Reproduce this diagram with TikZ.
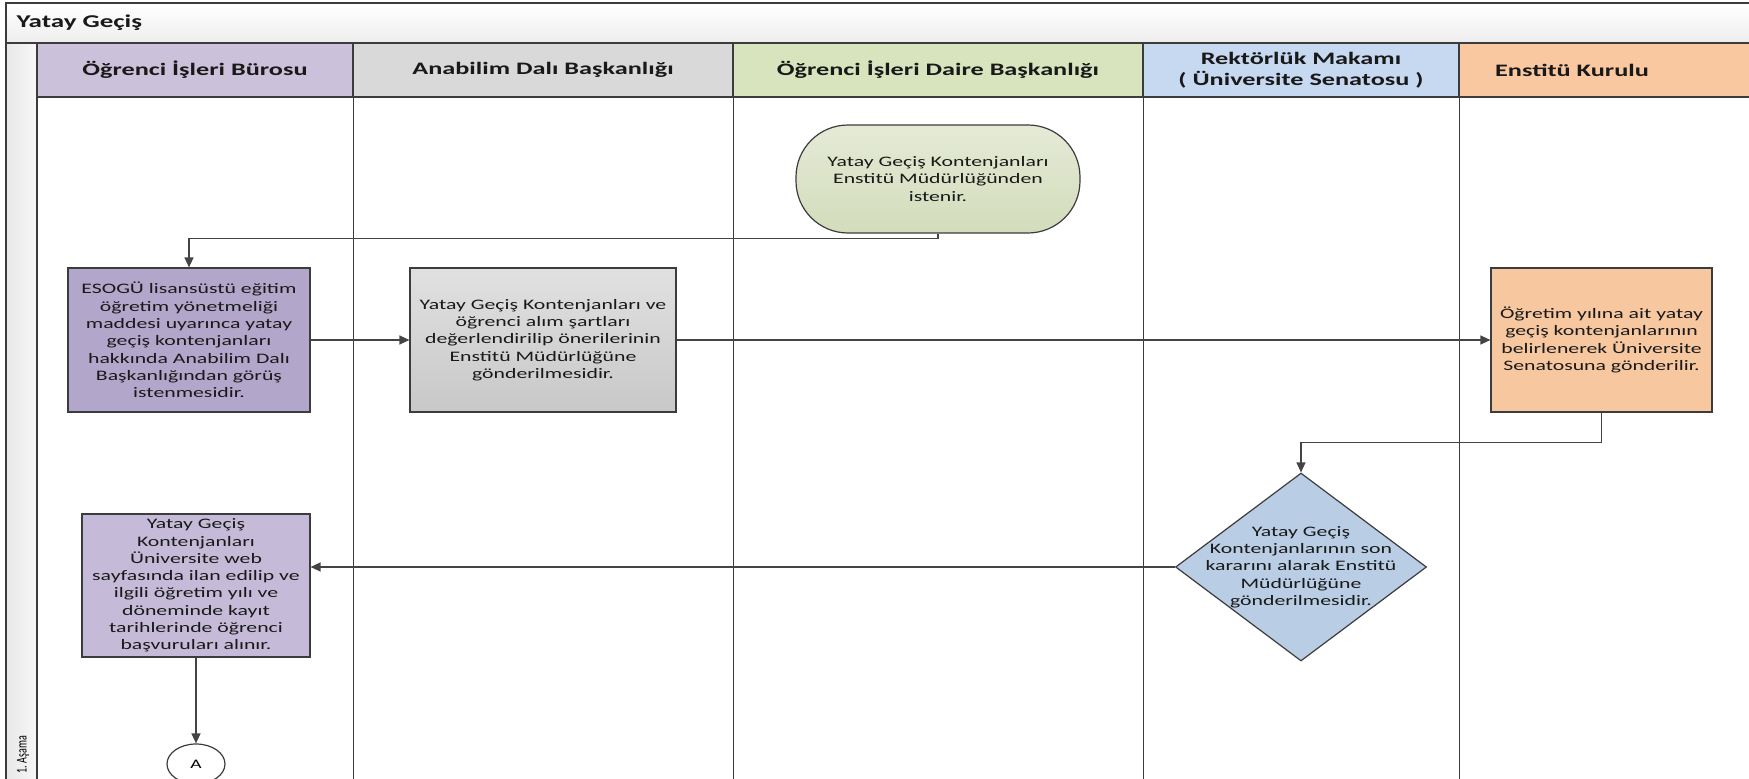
\documentclass[tikz,border=0pt]{standalone}
\usepackage{fontspec}
\setmainfont{Carlito}[FakeStretch=1.5]
\newfontfamily\narrowfont{Carlito}
\usepackage{graphicx}
\usepackage{xcolor}
\usepackage{tikz}
\usetikzlibrary{
	arrows.meta,
	shapes.geometric,
	}

\definecolor{edgegrey}{HTML}{3C3C3C}
\definecolor{linkgrey}{HTML}{444444}
\definecolor{lanepurple}{HTML}{CCC1DA}
\definecolor{lanegrey}{HTML}{D9D9D9}
\definecolor{lanegreen}{HTML}{D7E4BD}
\definecolor{laneblue}{HTML}{C6D9F1}
\definecolor{laneorange}{HTML}{F9C8A0}
\definecolor{boxpurple}{HTML}{B3A6CB}
\definecolor{boxlilac}{HTML}{C5BBD8}
\definecolor{boxgrey}{HTML}{C8C8C8}
\definecolor{boxgreen}{HTML}{D3DCBB}
\definecolor{boxblue}{HTML}{B9CDE5}
\definecolor{boxorange}{HTML}{F7C7A0}

\begin{document}
\begin{tikzpicture}[x=1pt, y=-1pt,
		lanehead/.style={draw=edgegrey, line width=1.2pt, inner sep=0pt, minimum height=54pt,
			align=center, text=black!90, font=\fontsize{17.5}{21}\selectfont\bfseries},
		proctext/.style={inner sep=0pt, align=center, text=black!90,
			font=\fontsize{14.5}{17.3}\selectfont},
		procbox/.style={proctext, draw=edgegrey, line width=1.2pt},
		laneline/.style={draw=edgegrey, line width=1.2pt},
		link/.style={draw=linkgrey, line width=1.4pt, -{Triangle[length=10pt, width=9pt]}},
	]
		\useasboundingbox (0,0) rectangle (1749,779);
		% frame, title and phase strip
		\draw[laneline, top color=white, bottom color=black!7] (6,3) rectangle (1760,43);
		\node[anchor=west, text=black!90, font=\fontsize{18}{20}\selectfont\bfseries] (title) at (13,23) {Yatay Geçiş};
		\draw[laneline, left color=black!9, right color=black!3] (6,43) rectangle (37,790);
		\node[rotate=90, anchor=west, inner sep=0pt, font=\narrowfont\fontsize{10}{12}\selectfont] (phase) at (23,774)
			{\scalebox{1}[1.5]{1. Aşama}};

		% lane headers
		\node[lanehead, fill=lanepurple, minimum width=316pt] (h1) at (195,70) {Öğrenci İşleri Bürosu};
		\node[lanehead, fill=lanegrey, minimum width=380pt] (h2) at (543,70) {Anabilim Dalı Başkanlığı};
		\node[lanehead, fill=lanegreen, minimum width=410pt] (h3) at (938,70) {Öğrenci İşleri Daire Başkanlığı};
		\node[lanehead, fill=laneblue, minimum width=316pt] (h4) at (1301,70) {Rektörlük Makamı\\( Üniversite Senatosu )};
		\draw[laneline, fill=laneorange] (1459,43) rectangle (1760,97);
		\node[text=black!90, font=\fontsize{17.5}{21}\selectfont\bfseries] (h5) at (1572,70) {Enstitü Kurulu};
		\foreach \h in {h1,h2,h3,h4}
			\draw[laneline] (\h.south east) -- ++(0,700);

		% steps
		\node[procbox, top color=boxgreen!60!white, bottom color=boxgreen, rounded corners=52pt,
			minimum width=284pt, minimum height=108pt] (start) at (938,179)
			{Yatay Geçiş Kontenjanları\\Enstitü Müdürlüğünden\\istenir.};
		\node[procbox, fill=boxpurple, minimum width=242pt, minimum height=144pt] (b1) at (189,340)
			{ESOGÜ lisansüstü eğitim\\öğretim yönetmeliği\\maddesi uyarınca yatay\\geçiş kontenjanları\\hakkında Anabilim Dalı\\Başkanlığından görüş\\istenmesidir.};
		\node[procbox, top color=boxgrey!55!white, bottom color=boxgrey, minimum width=266pt, minimum height=144pt] (b2) at (543,340)
			{Yatay Geçiş Kontenjanları ve\\öğrenci alım şartları\\değerlendirilip önerilerinin\\Enstitü Müdürlüğüne\\gönderilmesidir.};
		\node[procbox, fill=boxorange, minimum width=221pt, minimum height=144pt] (b4) at (1601.5,340)
			{Öğretim yılına ait yatay\\geçiş kontenjanlarının\\belirlenerek Üniversite\\Senatosuna gönderilir.};
		\node[diamond, draw=edgegrey, line width=1.2pt, fill=boxblue, inner sep=0pt,
			minimum width=251pt, minimum height=188pt] (dec) at (1301,567) {};
		\node[proctext] (dectext) at (dec) {Yatay Geçiş\\Kontenjanlarının son\\kararını alarak Enstitü\\Müdürlüğüne\\gönderilmesidir.};
		\node[procbox, fill=boxlilac, minimum width=228pt, minimum height=143pt] (b3) at (196,585.5)
			{Yatay Geçiş\\Kontenjanları\\Üniversite web\\sayfasında ilan edilip ve\\ilgili öğretim yılı ve\\döneminde kayıt\\tarihlerinde öğrenci\\başvuruları alınır.};
		\node[ellipse, draw=edgegrey, line width=1.2pt, fill=white, inner sep=0pt,
			minimum width=58pt, minimum height=40pt, font=\fontsize{13}{15}\selectfont] (conA) at (196,764) {A};

		% connectors
		\draw[link] (start.south) -- ++(0,5) -| (b1.north);
		\draw[link] (b1) -- (b2);
		\draw[link] (b2) -- (b4);
		\draw[link] (b4.south) -- ++(0,30) -| (dec.north);
		\draw[link] (dec.west) -- (dec.west -| b3.east);
		\draw[link] (b3) -- (conA);
	\end{tikzpicture}
\end{document}
